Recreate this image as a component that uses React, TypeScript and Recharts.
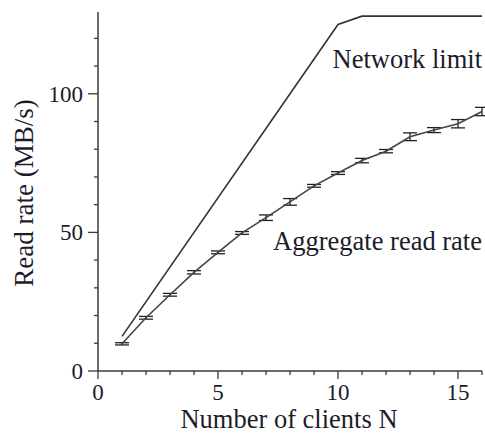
import React from 'react';
import { LineChart, Line, XAxis, YAxis, ErrorBar } from 'recharts';

const clients = [1, 2, 3, 4, 5, 6, 7, 8, 9, 10, 11, 12, 13, 14, 15, 16];
const aggregateRate = [9.8, 19.2, 27.5, 35.6, 42.8, 49.8, 55.3, 61.0, 66.8, 71.4, 75.9, 79.3, 84.5, 86.9, 89.2, 93.6];
const aggregateError = [0.4, 0.5, 0.5, 0.6, 0.5, 0.5, 1.0, 1.2, 0.5, 0.5, 0.8, 0.6, 1.4, 0.9, 1.5, 1.5];
const networkClients = [1, 10, 11, 16];
const networkLimit = [12.5, 125, 128, 128];

const xTicks = [0, 1, 2, 3, 4, 5, 6, 7, 8, 9, 10, 11, 12, 13, 14, 15, 16];
const xLabelled = [0, 5, 10, 15];
const yTicks = [0, 10, 20, 30, 40, 50, 60, 70, 80, 90, 100, 110, 120];
const yLabelled = [0, 50, 100];

const data = clients.map((n, i) => {
  const k = networkClients.indexOf(n);
  return {
    n,
    agg: aggregateRate[i],
    err: aggregateError[i],
    net: k >= 0 ? networkLimit[k] : null,
  };
});

const FONT = '"Liberation Serif", "Times New Roman", serif';
const INK = '#1c1c2a';
const AXIS = '#3a3a3a';

const XTick = (props: any) => {
  const { x, y, payload } = props;
  const major = xLabelled.includes(payload.value);
  return (
    <g>
      <line x1={x} x2={x} y1={y} y2={y + (major ? 8 : 4)} stroke={AXIS} strokeWidth={1.3} />
      {major && (
        <text x={x} y={y + 29} textAnchor="middle" fontFamily={FONT} fontSize={23} fill={INK}>
          {payload.value}
        </text>
      )}
    </g>
  );
};

const YTick = (props: any) => {
  const { x, y, payload } = props;
  const major = yLabelled.includes(payload.value);
  return (
    <g>
      <line x1={x - (major ? 10 : 4)} x2={x} y1={y} y2={y} stroke={AXIS} strokeWidth={1.3} />
      {major && (
        <text x={x - 15} y={y + 8} textAnchor="end" fontFamily={FONT} fontSize={23} fill={INK}>
          {payload.value}
        </text>
      )}
    </g>
  );
};

export default function App() {
  return (
    <div style={{ position: 'absolute', left: 0, top: 0, width: 485, height: 438, background: '#fff' }}>
      <LineChart width={485} height={438} data={data} margin={{ top: 12, right: 3, left: 0, bottom: 0 }}>
        <XAxis
          dataKey="n"
          type="number"
          domain={[0, 16]}
          ticks={xTicks}
          interval={0}
          tickSize={0}
          tickMargin={0}
          tick={<XTick />}
          height={67}
          stroke={AXIS}
          strokeWidth={1.5}
          allowDecimals={false}
        />
        <YAxis
          type="number"
          domain={[0, 129.5]}
          ticks={yTicks}
          interval={0}
          tickSize={0}
          tickMargin={0}
          tick={<YTick />}
          width={98}
          stroke={AXIS}
          strokeWidth={1.5}
        />
        <Line
          type="linear"
          dataKey="net"
          stroke="#333"
          strokeWidth={1.6}
          dot={false}
          connectNulls
          isAnimationActive={false}
        />
        <Line
          type="linear"
          dataKey="agg"
          stroke="#444"
          strokeWidth={1.6}
          dot={false}
          isAnimationActive={false}
        >
          <ErrorBar dataKey="err" width={7} stroke="#222" strokeWidth={1.3} direction="y" />
        </Line>
      </LineChart>
      <div style={{ position: 'absolute', left: 0, top: 0, width: 485, height: 438, pointerEvents: 'none' }}>
        <svg width={485} height={438}>
          <text x={482} y={68} textAnchor="end" fontFamily={FONT} fontSize={26.5} fill={INK}>Network limit</text>
          <text x={482} y={250} textAnchor="end" fontFamily={FONT} fontSize={26.5} fill={INK}>Aggregate read rate</text>
          <text x={289} y={428} textAnchor="middle" fontFamily={FONT} fontSize={26.5} fill={INK}>Number of clients N</text>
          <text
            x={0}
            y={0}
            transform="translate(33,193) rotate(-90)"
            textAnchor="middle"
            fontFamily={FONT}
            fontSize={27}
            fill={INK}
          >
            Read rate (MB/s)
          </text>
        </svg>
      </div>
    </div>
  );
}
